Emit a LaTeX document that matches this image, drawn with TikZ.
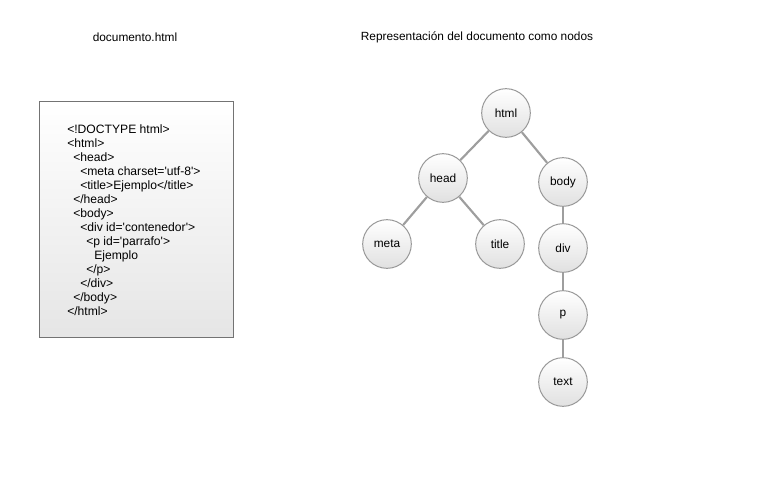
\documentclass[tikz,border=0pt]{standalone}
\usepackage{fontspec}
\setmainfont{Liberation Sans}
\tikzset{
  nodo/.style={circle,draw=black!40,line width=0.75pt,top color=white,bottom color=black!12,
    minimum size=36.5pt,inner sep=0pt,font=\fontsize{8.9}{10}\selectfont},
  arista/.style={draw=black!38,line width=1.6pt},
  codigo/.style={anchor=base west,inner sep=0pt,font=\fontsize{9.1}{10}\selectfont},
  titulo/.style={font=\fontsize{8.9}{10}\selectfont}
}
\begin{document}
\begin{tikzpicture}[x=0.75pt,y=-0.75pt]
\useasboundingbox (0,0) rectangle (757,483);
    \node[titulo] (tdoc) at (135,37) {documento.html};
    \node[titulo] (trep) at (477,37) {Representación del documento como nodos};
		% caja con el codigo
		\draw[draw=black!55,line width=0.75pt,top color=white,bottom color=black!10] (39,101) rectangle (233,337);
    \foreach \x/\txt [count=\i] in {67/{<!DOCTYPE html>},67/{<html>},73/{<head>},
      80/{<meta charset=\textquotesingle utf-8\textquotesingle>},80/{<title>Ejemplo</title>},
      73/{</head>},73/{<body>},80/{<div id=\textquotesingle contenedor\textquotesingle>},
      86/{<p id=\textquotesingle parrafo\textquotesingle>},94/{Ejemplo},86/{</p>},
      80/{</div>},73/{</body>},67/{</html>}}
      \node[codigo] (linea\i) at (\x,119+14*\i) {\txt};
		% arbol
    \node[nodo] (html) at (506,113) {html};
    \node[nodo] (head) at (443,178) {head};
    \node[nodo] (body) at (563,182) {body};
    \node[nodo] (meta) at (387,244) {meta};
    \node[nodo] (title) at (500,244) {title};
    \node[nodo] (div) at (563,248) {div};
    \node[nodo] (p) at (563,315) {p};
    \node[nodo] (text) at (563,382) {text};
		\draw[arista] (html) -- (head);
		\draw[arista] (html) -- (body);
		\draw[arista] (head) -- (meta);
		\draw[arista] (head) -- (title);
		\draw[arista] (body) -- (div);
		\draw[arista] (div) -- (p);
		\draw[arista] (p) -- (text);
\end{tikzpicture}
\end{document}
